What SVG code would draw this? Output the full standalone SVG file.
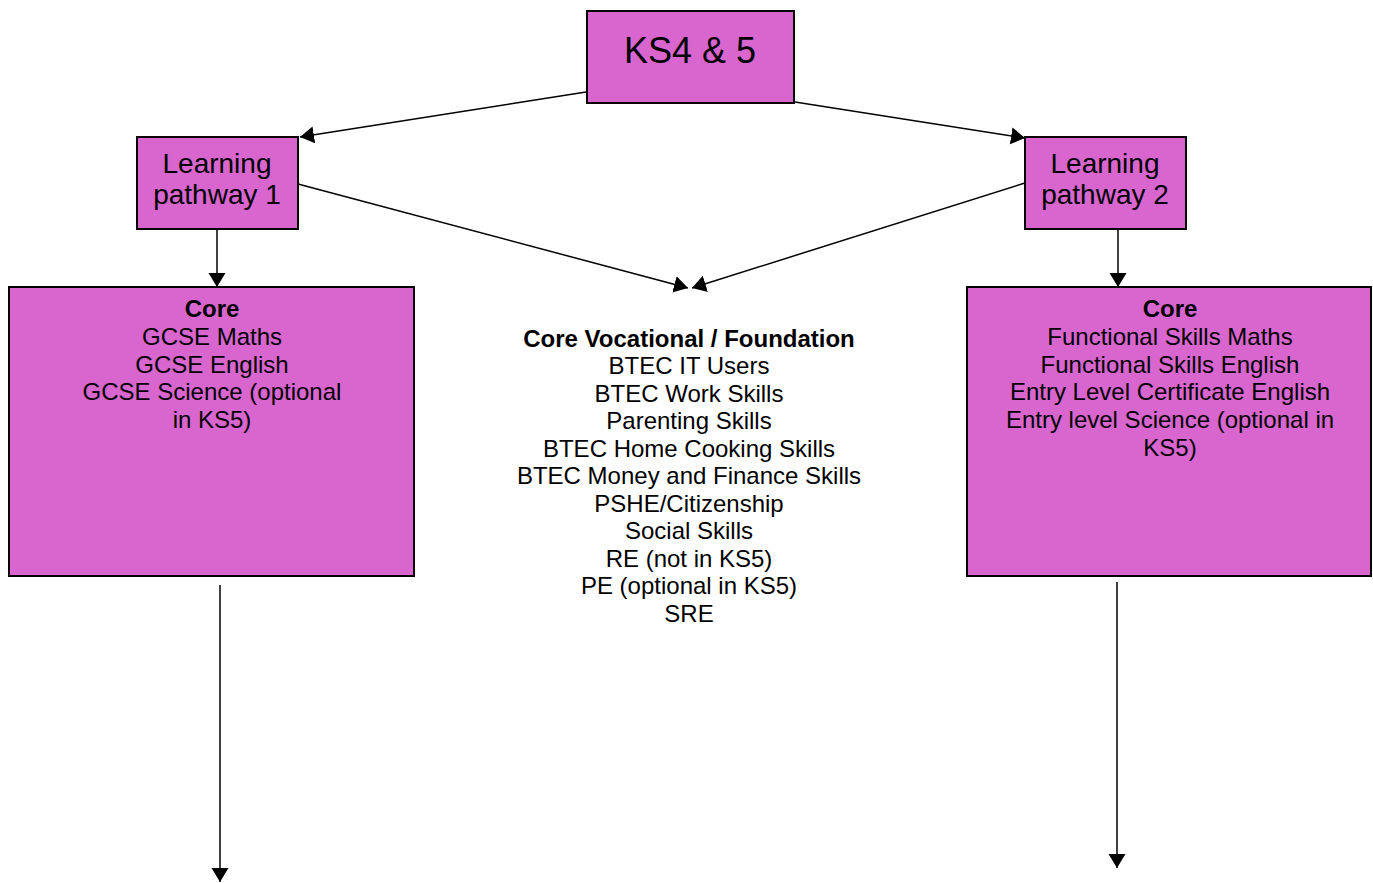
<svg xmlns="http://www.w3.org/2000/svg" width="1373" height="883" viewBox="0 0 1373 883">
<style>
.box{fill:#d966cf;stroke:#000;stroke-width:2}
.t{font-family:"Liberation Sans",Arial,sans-serif;fill:#000;text-anchor:middle;font-size:24px}
.b{font-weight:bold}
.c{stroke:#000;stroke-width:1.5;fill:none;marker-end:url(#ah)}
</style>
<defs>
<marker id="ah" markerUnits="userSpaceOnUse" markerWidth="15" markerHeight="18" refX="14" refY="8.5" orient="auto">
<path d="M0,0 L14,8.5 L0,17 Z" fill="#000"/>
</marker>
</defs>
<rect width="1373" height="883" fill="#fff"/>
<g id="connectors">
<line class="c" x1="586" y1="92" x2="300" y2="137"/>
<line class="c" x1="795" y1="102" x2="1025" y2="138"/>
<line class="c" x1="217" y1="229" x2="217" y2="287"/>
<line class="c" x1="1118" y1="229" x2="1118" y2="287"/>
<line class="c" x1="298" y1="184" x2="688" y2="288"/>
<line class="c" x1="1025" y1="183" x2="692" y2="288"/>
<line class="c" x1="220" y1="585" x2="220" y2="882"/>
<line class="c" x1="1117" y1="582" x2="1117" y2="868"/>
</g>
<g id="ks45">
<rect class="box" x="587" y="11" width="207" height="92"/>
<text class="t" x="690" y="63" style="font-size:36px">KS4 &amp; 5</text>
</g>
<g id="lp1">
<rect class="box" x="137" y="137" width="161" height="92"/>
<text class="t" x="217" y="173" style="font-size:28px">Learning</text>
<text class="t" x="217" y="204" style="font-size:28px">pathway 1</text>
</g>
<g id="lp2">
<rect class="box" x="1025" y="137" width="161" height="92"/>
<text class="t" x="1105" y="173" style="font-size:28px">Learning</text>
<text class="t" x="1105" y="204" style="font-size:28px">pathway 2</text>
</g>
<g id="core1">
<rect class="box" x="9" y="287" width="405" height="289"/>
<text class="t b" x="212" y="317">Core</text>
<text class="t" x="212" y="345">GCSE Maths</text>
<text class="t" x="212" y="372.5">GCSE English</text>
<text class="t" x="212" y="400">GCSE Science (optional</text>
<text class="t" x="212" y="428">in KS5)</text>
</g>
<g id="core2">
<rect class="box" x="967" y="287" width="404" height="289"/>
<text class="t b" x="1170" y="317">Core</text>
<text class="t" x="1170" y="345">Functional Skills Maths</text>
<text class="t" x="1170" y="372.5">Functional Skills English</text>
<text class="t" x="1170" y="400">Entry Level Certificate English</text>
<text class="t" x="1170" y="428">Entry level Science (optional in</text>
<text class="t" x="1170" y="455.5">KS5)</text>
</g>
<g id="vocational">
<text class="t b" x="689" y="346.7">Core Vocational / Foundation</text>
<text class="t" x="689" y="374.2">BTEC IT Users</text>
<text class="t" x="689" y="401.7">BTEC Work Skills</text>
<text class="t" x="689" y="429.2">Parenting Skills</text>
<text class="t" x="689" y="456.7">BTEC Home Cooking Skills</text>
<text class="t" x="689" y="484.2">BTEC Money and Finance Skills</text>
<text class="t" x="689" y="511.7">PSHE/Citizenship</text>
<text class="t" x="689" y="539.2">Social Skills</text>
<text class="t" x="689" y="566.7">RE (not in KS5)</text>
<text class="t" x="689" y="594.2">PE (optional in KS5)</text>
<text class="t" x="689" y="621.7">SRE</text>
</g>
</svg>
